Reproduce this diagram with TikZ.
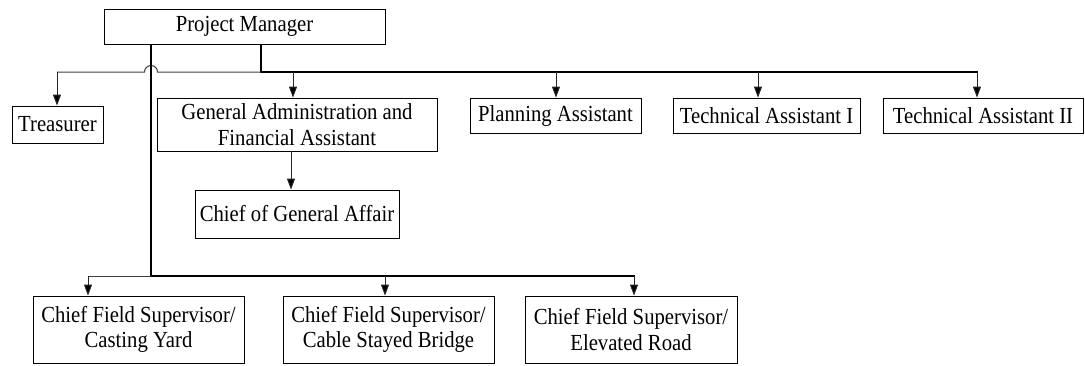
\documentclass[tikz,border=0pt]{standalone}
\usepackage{fontspec}
\setmainfont{Liberation Serif}[FakeStretch=0.9]
\usetikzlibrary{arrows.meta}
\begin{document}
\begin{tikzpicture}[x=1pt,y=1pt,
  orgbox/.style={draw, line width=0.8pt, inner sep=0pt, align=center,
    font=\fontsize{23}{25.5}\selectfont},
  mainline/.style={line width=1.6pt, line cap=rect},
  thinline/.style={line width=1pt, draw=black!75},
  arr/.style={line width=1pt, draw=black!85, -{Triangle[width=8pt,length=11pt,fill=black]}}]
\useasboundingbox (0,0) rectangle (1085,-365);
% boxes
\node[orgbox, minimum width=281, minimum height=35] (PM) at (244.5,-26.5) {Project Manager};
\node[orgbox, minimum width=91, minimum height=37] (TR) at (57.5,-124.5) {Treasurer};
\node[orgbox, minimum width=280, minimum height=53] (GA) at (297,-124.5) {General Administration and\\Financial Assistant};
\node[orgbox, minimum width=204, minimum height=48] (CGA) at (297,-214) {Chief of General Affair};
\node[orgbox, minimum width=171, minimum height=35] (PA) at (555.5,-115.5) {Planning Assistant};
\node[orgbox, minimum width=187, minimum height=35] (TA1) at (766.5,-115.5) {Technical Assistant I};
\node[orgbox, minimum width=200, minimum height=35] (TA2) at (983,-115.5) {Technical Assistant II};
\node[orgbox, minimum width=211, minimum height=67] (CF1) at (138.5,-329.5) {Chief Field Supervisor/\\Casting Yard};
\node[orgbox, minimum width=211, minimum height=67] (CF2) at (388.5,-329.5) {Chief Field Supervisor/\\Cable Stayed Bridge};
\node[orgbox, minimum width=212, minimum height=67] (CF3) at (631,-329.5) {Chief Field Supervisor/\\Elevated Road};
% junction coordinates
\coordinate (jt) at (261,-72);
\coordinate (jb) at (151,-276);
\coordinate (xTR) at (57,-72);
\coordinate (xGA) at (293,-72);
\coordinate (xPA) at (556,-72);
\coordinate (xTA1) at (758,-72);
\coordinate (xTA2) at (977,-72);
\coordinate (xCGA) at (291,-151);
\coordinate (xCF1) at (88,-276);
\coordinate (xCF2) at (385,-276);
\coordinate (xCF3) at (634,-276);
% top bus
\draw[mainline] (PM.south -| jt) -- (jt) -- (xTA2);
\draw[thinline] (jt) -- (157.5,-72) arc[start angle=0, end angle=180, radius=6.5pt] -- (xTR);
\draw[arr] (xTR) -- (xTR |- TR.north);
\draw[arr] (xGA) -- (xGA |- GA.north);
\draw[arr] (xPA) -- (xPA |- PA.north);
\draw[arr] (xTA1) -- (xTA1 |- TA1.north);
\draw[arr] (xTA2) -- (xTA2 |- TA2.north);
\draw[arr] (xCGA |- GA.south) -- (xCGA |- CGA.north);
% bottom bus
\draw[mainline] (PM.south -| jb) -- (jb) -- (xCF3);
\draw[thinline] (jb) -- (xCF1);
\draw[arr] (xCF1) -- (xCF1 |- CF1.north);
\draw[arr] (xCF2) -- (xCF2 |- CF2.north);
\draw[arr] (xCF3) -- (xCF3 |- CF3.north);
\end{tikzpicture}
\end{document}
